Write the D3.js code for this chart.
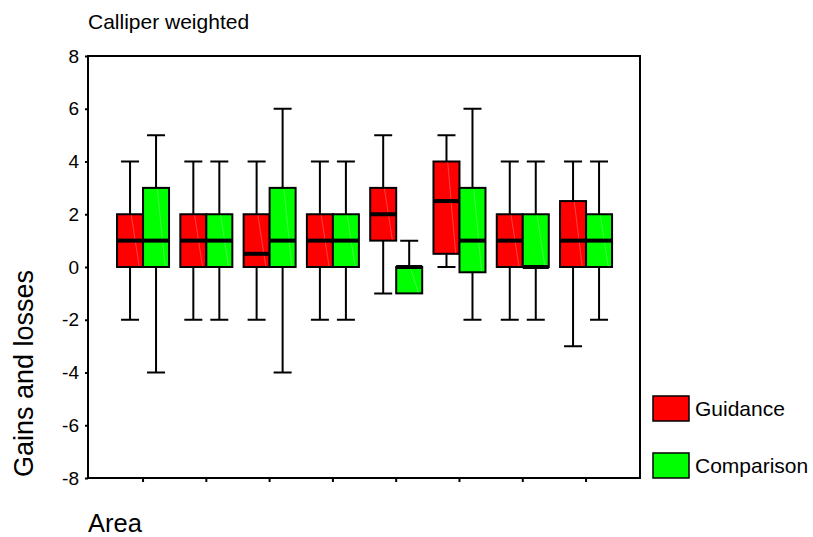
<!DOCTYPE html>
<html>
<head>
<meta charset="utf-8">
<script src="https://cdn.jsdelivr.net/npm/d3@7"></script>
<style>
  html, body { margin: 0; padding: 0; background: #fff; }
  svg { display: block; font-family: "Liberation Sans", Arial, sans-serif; }
</style>
</head>
<body>
<svg id="chart" width="813" height="537"></svg>
<script>
// ---- data ----
const areas = ["1", "2", "3", "4", "5", "6", "7", "8"];
const series = ["Guidance", "Comparison"];
const colors = ["#ff0000", "#00ff00"];
const yTicks = [-8, -6, -4, -2, 0, 2, 4, 6, 8];

const guidanceLow  = [-2, -2, -2, -2, -1, 0,   -2, -3];
const guidanceQ1   = [ 0,  0,  0,  0,  1, 0.5,  0,  0];
const guidanceMed  = [ 1,  1, 0.5, 1,  2, 2.5,  1,  1];
const guidanceQ3   = [ 2,  2,  2,  2,  3, 4,    2,  2.5];
const guidanceHigh = [ 4,  4,  4,  4,  5, 5,    4,  4];

const comparisonLow  = [-4, -2, -4, -2, -1, -2,   -2, -2];
const comparisonQ1   = [ 0,  0,  0,  0, -1, -0.2,  0,  0];
const comparisonMed  = [ 1,  1,  1,  1,  0,  1,    0,  1];
const comparisonQ3   = [ 3,  2,  3,  2,  0,  3,    2,  2];
const comparisonHigh = [ 5,  4,  6,  4,  1,  6,    4,  4];

const title = "Calliper weighted";
const yTitle = "Gains and losses";
const xTitle = "Area";

// ---- build table ----
const stats = [
  { low: guidanceLow, q1: guidanceQ1, med: guidanceMed, q3: guidanceQ3, high: guidanceHigh },
  { low: comparisonLow, q1: comparisonQ1, med: comparisonMed, q3: comparisonQ3, high: comparisonHigh }
];
const boxes = [];
areas.forEach((a, i) => {
  series.forEach((s, j) => {
    const st = stats[j];
    boxes.push({ area: a, series: s, si: j,
      low: st.low[i], q1: st.q1[i], med: st.med[i], q3: st.q3[i], high: st.high[i] });
  });
});

// ---- layout ----
const frame = { left: 88, right: 640, top: 56, bottom: 478 };
const svg = d3.select("#chart");

const y = d3.scaleLinear().domain([-8, 8]).range([frame.bottom, frame.top]);
const x = d3.scaleBand().domain(areas).range([111.4, 617.7]);
const xs = d3.scaleBand().domain(series).range([0, x.bandwidth()]).paddingOuter(0.217);

// frame
svg.append("rect")
  .attr("x", frame.left).attr("y", frame.top)
  .attr("width", frame.right - frame.left).attr("height", frame.bottom - frame.top)
  .attr("fill", "none").attr("stroke", "#000").attr("stroke-width", 2);

// y axis
const yAxis = d3.axisLeft(y).tickValues(yTicks).tickSize(3).tickPadding(6).tickFormat(d => String(d));
const gy = svg.append("g").attr("transform", `translate(${frame.left},0)`).call(yAxis);
gy.select(".domain").remove();
gy.selectAll(".tick line").attr("stroke", "#000").attr("stroke-width", 2);
gy.selectAll(".tick text").attr("font-size", 19).attr("fill", "#000")
  .attr("font-family", "Liberation Sans, Arial, sans-serif");

// x axis (ticks only, no labels)
const xAxis = d3.axisBottom(x).tickSize(4).tickFormat("");
const gx = svg.append("g").attr("transform", `translate(0,${frame.bottom})`).call(xAxis);
gx.select(".domain").remove();
gx.selectAll(".tick line").attr("stroke", "#000").attr("stroke-width", 2);

// boxes
const capW = 18;
const g = svg.append("g");
const bx = d => x(d.area) + xs(d.series);
const bw = xs.bandwidth();

// whiskers
g.selectAll(".wh").data(boxes).join("path")
  .attr("d", d => {
    const cx = bx(d) + bw / 2;
    let p = "";
    if (d.high > d.q3) p += `M${cx},${y(d.q3)}V${y(d.high)}M${cx - capW / 2},${y(d.high)}H${cx + capW / 2}`;
    if (d.low < d.q1) p += `M${cx},${y(d.q1)}V${y(d.low)}M${cx - capW / 2},${y(d.low)}H${cx + capW / 2}`;
    return p || null;
  })
  .attr("stroke", "#000").attr("stroke-width", 2).attr("fill", "none");

// box bodies
g.selectAll(".box").data(boxes).join("rect")
  .attr("x", d => bx(d)).attr("width", bw)
  .attr("y", d => y(d.q3)).attr("height", d => y(d.q1) - y(d.q3))
  .attr("fill", d => colors[d.si]).attr("stroke", "#000").attr("stroke-width", 2);

// faint diagonal artifact
g.selectAll(".diag").data(boxes).join("line")
  .attr("x1", d => bx(d) + bw * 0.55).attr("y1", d => y(d.q3) + 1)
  .attr("x2", d => bx(d) + bw * 0.85).attr("y2", d => y(d.q1) - 1)
  .attr("stroke", "#fff").attr("stroke-opacity", 0.25).attr("stroke-width", 1);

// medians
g.selectAll(".med").data(boxes).join("line")
  .attr("x1", d => bx(d)).attr("x2", d => bx(d) + bw)
  .attr("y1", d => y(d.med)).attr("y2", d => y(d.med))
  .attr("stroke", "#000").attr("stroke-width", 4);

// titles
svg.append("text").attr("x", 88).attr("y", 29).attr("font-size", 21).text(title);
svg.append("text").attr("x", 88).attr("y", 532).attr("font-size", 25.5).text(xTitle);
svg.append("text").attr("transform", "translate(33,477) rotate(-90)")
  .attr("font-size", 27).text(yTitle);

// legend
const legend = svg.append("g");
series.forEach((s, j) => {
  const ly = 396 + j * 57;
  legend.append("rect").attr("x", 653).attr("y", ly).attr("width", 36).attr("height", 25)
    .attr("fill", colors[j]).attr("stroke", "#000").attr("stroke-width", 1.5);
  legend.append("text").attr("x", 695).attr("y", ly + 20).attr("font-size", 21).text(s);
});
</script>
</body>
</html>
